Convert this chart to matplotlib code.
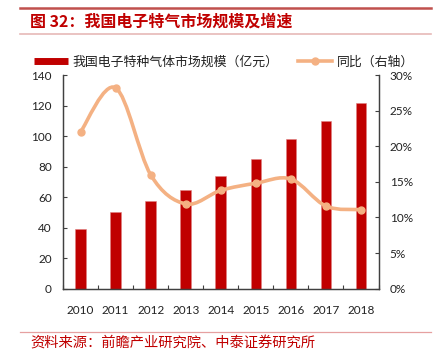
import matplotlib
matplotlib.use("Agg")
import matplotlib.pyplot as plt
import numpy as np
from matplotlib.lines import Line2D
from matplotlib.path import Path
from matplotlib.patches import PathPatch

# %% data
years = ["2010", "2011", "2012", "2013", "2014", "2015", "2016", "2017", "2018"]
market_size = [39.0, 50.0, 57.7, 64.6, 74.0, 84.7, 98.0, 109.6, 121.6]  # 亿元
yoy = [22.0, 28.2, 16.0, 11.9, 13.8, 14.8, 15.4, 11.6, 11.1]  # %

bar_label = "我国电子特种气体市场规模（亿元）"
line_label = "同比（右轴）"
title = "图 32：我国电子特气市场规模及增速"
source = "资料来源：前瞻产业研究院、中泰证券研究所"

RED = "#c00000"
PEACH = "#f4b183"
AXIS = "#404040"
CJK = ["Noto Sans CJK SC", "DejaVu Sans"]

plt.rcParams["font.family"] = ["Lato", "DejaVu Sans"]

W, H = 441, 352
fig = plt.figure(figsize=(W / 100, H / 100), dpi=100)


def px(x0, y0, x1, y1):
    # pixel box (top-left origin) -> figure fraction rect
    return [x0 / W, 1 - y1 / H, (x1 - x0) / W, (y1 - y0) / H]


ax = fig.add_axes(px(63, 75, 378.5, 288.7))
ax2 = ax.twinx()

x = np.arange(len(years))
ax.bar(x, market_size, width=0.3, color=RED, edgecolor="#e08080", linewidth=0.4, zorder=2)
ax.set_xlim(-0.5, len(years) - 0.5)
ax.set_ylim(0, 140)
ax.set_yticks(range(0, 141, 20))
ax.set_xticks(x)
ax.set_xticklabels(years)
ax.set_xticks(np.arange(-0.5, len(years), 1), minor=True)
ax.tick_params(axis="x", which="major", length=0, pad=12, labelsize=8.5, colors="#222222")
ax.tick_params(axis="x", which="minor", length=3, direction="in", color=AXIS, width=0.8)
ax.tick_params(axis="y", length=3, direction="in", color=AXIS, width=0.8, labelsize=8.5,
               labelcolor="#222222", pad=8)

# smoothed YoY line, drawn as cubic bezier segments (Catmull-Rom style)
pts = np.column_stack([x, yoy]).astype(float)
verts = [tuple(pts[0])]
codes = [Path.MOVETO]
n = len(pts)
for i in range(n - 1):
    p0 = pts[max(i - 1, 0)]
    p1 = pts[i]
    p2 = pts[i + 1]
    p3 = pts[min(i + 2, n - 1)]
    c1 = p1 + (p2 - p0) / 6.0
    c2 = p2 - (p3 - p1) / 6.0
    verts += [tuple(c1), tuple(c2), tuple(p2)]
    codes += [Path.CURVE4] * 3
ax2.add_patch(PathPatch(Path(verts, codes), facecolor="none", edgecolor=PEACH,
                        linewidth=2.6, capstyle="round", zorder=3))
ax2.plot(x, yoy, "o", color=PEACH, markersize=5, zorder=4)
ax2.set_ylim(0, 30)
ax2.set_yticks(range(0, 31, 5))
ax2.set_yticklabels([f"{v}%" for v in range(0, 31, 5)])
ax2.tick_params(axis="y", length=3, direction="in", color=AXIS, width=0.8, labelsize=8.5,
                labelcolor="#222222", pad=8)

for a in (ax, ax2):
    a.spines["top"].set_visible(False)
    for s in ("left", "right", "bottom"):
        a.spines[s].set_color(AXIS)
        a.spines[s].set_linewidth(0.9)

# legend
handles = [
    Line2D([], [], color=RED, linewidth=5, solid_capstyle="butt"),
    Line2D([], [], color=PEACH, linewidth=2.6, marker="o", markersize=5),
]
fig.legend(handles, [bar_label, line_label], loc="center", bbox_to_anchor=(0.508, 1 - 62 / H),
           ncol=2, frameon=False, prop={"family": CJK, "size": 9.3}, handlelength=2.6,
           columnspacing=1.5, handletextpad=0.4, labelcolor="#222222")

# header / footer decoration
fig.add_artist(Line2D([20 / W, 431 / W], [1 - 7.5 / H] * 2, color="#c0504d", linewidth=1.8))
fig.add_artist(Line2D([20 / W, 431 / W], [1 - 34 / H] * 2, color="#e6b9b8", linewidth=1.2))
fig.add_artist(Line2D([20 / W, 431 / W], [1 - 332 / H] * 2, color="#e6a0a0", linewidth=0.9))
fig.text(30 / W, 1 - 21.5 / H, title, family=CJK, fontsize=11.5, weight="bold", color=RED,
         ha="left", va="center")
fig.text(30 / W, 1 - 343.5 / H, source, family=CJK, fontsize=10.3, color=RED,
         ha="left", va="center")

fig.savefig("out.png", dpi=100)
